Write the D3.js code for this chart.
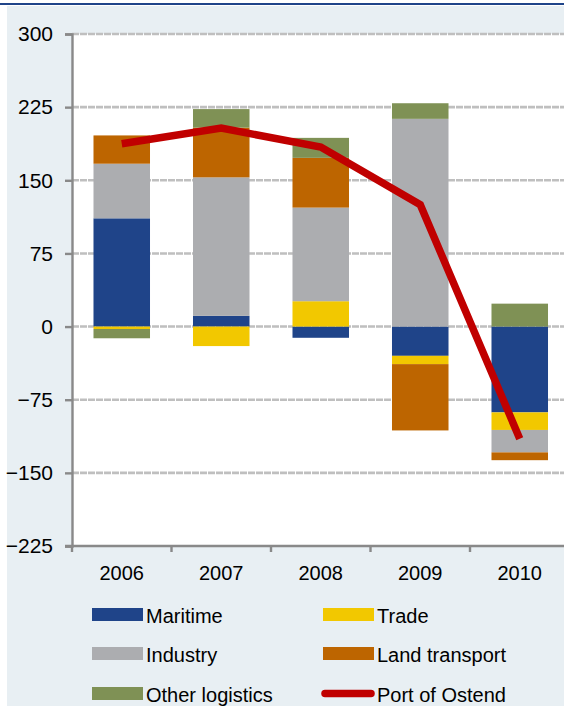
<!DOCTYPE html>
<html>
<head>
<meta charset="utf-8">
<script src="https://cdn.jsdelivr.net/npm/d3@7"></script>
<style>
  html, body { margin: 0; padding: 0; background: #ffffff; }
  svg { display: block; }
  text { font-family: "Liberation Sans", Arial, sans-serif; fill: #000; }
</style>
</head>
<body>
<svg id="chart" width="564" height="706"></svg>
<script>
// ---- data ----
const years = ["2006", "2007", "2008", "2009", "2010"];
const seriesNames = ["Maritime", "Trade", "Industry", "Land transport", "Other logistics"];
const maritime = [111, 11, -11.5, -30, -88];
const trade = [-2.5, -20, 26, -8.5, -18];
const industry = [56, 142, 96, 213, -23];
const landTransport = [29, 51, 51, -68, -8];
const otherLogistics = [-9.5, 19, 20.5, 16, 23.5];
const portOfOstend = [187.5, 203.5, 184, 125, -115];
const yTicks = [-225, -150, -75, 0, 75, 150, 225, 300];
const lineName = "Port of Ostend";

const colors = {
  "Maritime": "#1F4489",
  "Trade": "#F2C800",
  "Industry": "#ACADB0",
  "Land transport": "#BD6500",
  "Other logistics": "#7F9155"
};
const lineColor = "#C00000";

const seriesValues = [maritime, trade, industry, landTransport, otherLogistics];
const table = years.map((y, i) => {
  const row = { year: y };
  seriesNames.forEach((s, k) => { row[s] = seriesValues[k][i]; });
  return row;
});

const svg = d3.select("#chart");
const W = 564, H = 706;

// background
svg.append("rect").attr("x", 0).attr("y", 0).attr("width", W).attr("height", H).attr("fill", "#ffffff");
svg.append("rect").attr("x", 7).attr("y", 6).attr("width", W - 7).attr("height", H - 6).attr("fill", "#E8EFF3");
svg.append("rect").attr("x", 0).attr("y", 3).attr("width", W).attr("height", 2).attr("fill", "#1F4489");

const plotLeft = 72, plotTop = 34, plotBottom = 546;
const step = 99.5;
const x = d3.scaleBand().domain(years).range([plotLeft, plotLeft + step * years.length])
  .paddingInner(0.432).paddingOuter(0.216);
const y = d3.scaleLinear().domain([-225, 300]).range([plotBottom, plotTop]);

// plot area
svg.append("rect").attr("x", plotLeft).attr("y", plotTop).attr("width", W - plotLeft).attr("height", plotBottom - plotTop).attr("fill", "#ffffff");

// gridlines
svg.append("g").selectAll("line").data(yTicks.filter(t => t !== -225)).join("line")
  .attr("x1", plotLeft).attr("x2", W)
  .attr("y1", d => y(d)).attr("y2", d => y(d))
  .attr("stroke", "#BFBFBF").attr("stroke-width", 2.6)
  .attr("stroke-dasharray", "7,1");

// stacked bars
const stack = d3.stack().keys(seriesNames).offset(d3.stackOffsetDiverging);
const stacked = stack(table);
svg.append("g").selectAll("g").data(stacked).join("g")
  .attr("fill", d => colors[d.key])
  .selectAll("rect").data(d => d).join("rect")
  .attr("x", d => x(d.data.year))
  .attr("width", x.bandwidth())
  .attr("y", d => y(Math.max(d[0], d[1])))
  .attr("height", d => Math.abs(y(d[0]) - y(d[1])));

// axes
const yAxis = d3.axisLeft(y).tickValues(yTicks).tickSize(7).tickPadding(12).tickFormat(d3.format("d"));
const gy = svg.append("g").attr("transform", `translate(${plotLeft},0)`).call(yAxis);
gy.select(".domain").attr("stroke", "#898989").attr("stroke-width", 2.4);
gy.selectAll(".tick line").attr("stroke", "#898989").attr("stroke-width", 2.4);
gy.selectAll(".tick text").attr("font-size", 21).attr("font-family", "Liberation Sans, Arial, sans-serif").attr("fill", "#000");

const xAxis = d3.axisBottom(x).tickSize(0).tickPadding(20);
const gx = svg.append("g").attr("transform", `translate(0,${plotBottom})`).call(xAxis);
gx.select(".domain").remove();
gx.append("line").attr("x1", plotLeft - 7).attr("x2", W).attr("y1", 0).attr("y2", 0)
  .attr("stroke", "#898989").attr("stroke-width", 2.4);
gx.selectAll(".tick text").attr("font-size", 20).attr("font-family", "Liberation Sans, Arial, sans-serif").attr("fill", "#000");
// band boundary ticks
const bounds = years.map(yr => x(yr) - x.step() * x.paddingInner() / 2).slice(1)
  .concat([x(years[years.length - 1]) + x.bandwidth() + x.step() * x.paddingInner() / 2]);
gx.append("g").selectAll("line").data(bounds.concat([plotLeft])).join("line")
  .attr("x1", d => d).attr("x2", d => d).attr("y1", 0).attr("y2", 6)
  .attr("stroke", "#898989").attr("stroke-width", 2.4);

// line
const line = d3.line().x((d, i) => x(years[i]) + x.bandwidth() / 2).y(d => y(d));
svg.append("path").datum(portOfOstend)
  .attr("d", line).attr("fill", "none")
  .attr("stroke", lineColor).attr("stroke-width", 7.5)
  .attr("stroke-linejoin", "miter").attr("stroke-linecap", "butt");

// legend
const legendItems = [
  { name: "Maritime", col: 0, row: 0 },
  { name: "Trade", col: 1, row: 0 },
  { name: "Industry", col: 0, row: 1 },
  { name: "Land transport", col: 1, row: 1 },
  { name: "Other logistics", col: 0, row: 2 },
  { name: lineName, col: 1, row: 2, isLine: true }
];
const colX = [92, 323];
const rowY = [614.5, 653.5, 693.5];
const lg = svg.append("g");
legendItems.forEach(it => {
  const gx0 = colX[it.col], cy = rowY[it.row];
  if (it.isLine) {
    lg.append("line").attr("x1", gx0 + 2).attr("x2", gx0 + 48).attr("y1", cy).attr("y2", cy)
      .attr("stroke", lineColor).attr("stroke-width", 7.5).attr("stroke-linecap", "round");
  } else {
    lg.append("rect").attr("x", gx0).attr("y", cy - 6.5).attr("width", 51).attr("height", 13)
      .attr("fill", colors[it.name]);
  }
  lg.append("text").attr("x", gx0 + 54).attr("y", cy + 8).attr("font-size", 20).text(it.name);
});
</script>
</body>
</html>
